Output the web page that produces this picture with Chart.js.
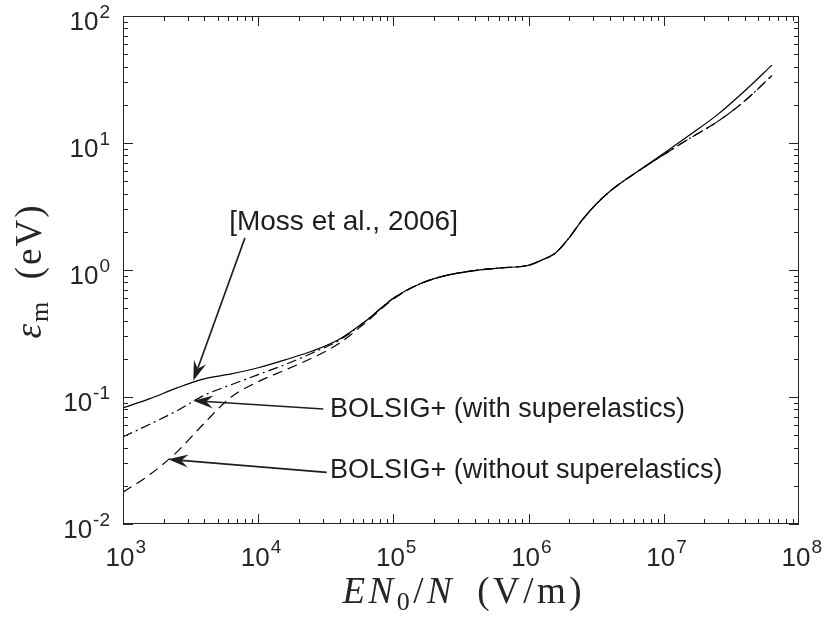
<!DOCTYPE html>
<html>
<head>
<meta charset="utf-8">
<script src="https://cdn.jsdelivr.net/npm/chart.js@4"></script>
<style>
  html, body { margin: 0; background: #fff; }
  #wrap { width: 826px; height: 624px; position: relative; }
</style>
</head>
<body>
<div id="wrap"><canvas id="chart_energy"></canvas></div>
<script>
// reduced field E N0/N (V/m), sampled on the picture's log axis
var fieldVm = [1.00e3, 1.58e3, 2.51e3, 3.98e3, 6.31e3,
               1.00e4, 1.58e4, 2.51e4, 3.98e4, 6.31e4,
               1.00e5, 1.58e5, 2.51e5, 3.98e5, 6.31e5,
               1.00e6, 1.26e6, 1.58e6, 2.00e6, 2.51e6, 3.16e6, 3.98e6, 5.01e6, 6.31e6,
               1.00e7, 1.58e7, 2.51e7, 3.98e7, 6.31e7];

// mean energy (eV)
var mossEnergy = [0.082, 0.097, 0.118, 0.139, 0.152,
                  0.170, 0.196, 0.230, 0.285, 0.40,
                  0.60, 0.78, 0.91, 0.99, 1.04,
                  1.09, 1.20, 1.36, 1.80, 2.50, 3.30, 4.15, 5.00, 5.90,
                  8.3, 11.7, 16.8, 25.8, 41];
var withSuperEnergy = [0.0486, 0.061, 0.078, 0.103, 0.125,
                       0.150, 0.180, 0.222, 0.280, 0.40,
                       0.60, 0.78, 0.91, 0.99, 1.04,
                       1.09, 1.20, 1.36, 1.80, 2.50, 3.30, 4.15, 5.00, 5.90,
                       8.1, 11.0, 14.8, 21.5, 34];
var withoutSuperEnergy = [0.0178, 0.0245, 0.037, 0.062, 0.100,
                          0.132, 0.163, 0.203, 0.265, 0.39,
                          0.59, 0.78, 0.91, 0.99, 1.04,
                          1.09, 1.20, 1.36, 1.80, 2.50, 3.30, 4.15, 5.00, 5.90,
                          8.1, 11.0, 14.8, 21.5, 34];

var xTickExp = [3, 4, 5, 6, 7, 8];
var yTickExp = [-2, -1, 0, 1, 2];

// annotations, in data coordinates
var notes = [
    { text: '[Moss et al., 2006]', at: [6.1e3, 2.07], from: [7.98e3, 1.79], to: [3.31e3, 0.134] },
    { text: 'BOLSIG+ (with superelastics)', at: [3.40e4, 0.070], from: [3.03e4, 0.0805], to: [3.31e3, 0.0935] },
    { text: 'BOLSIG+ (without superelastics)', at: [3.40e4, 0.0229], from: [3.21e4, 0.0255], to: [2.16e3, 0.0323] }
];

var INK = '#262626';
var SANS = '"Liberation Sans", Arial, Helvetica, sans-serif';
var SERIF = '"Liberation Serif", "Times New Roman", serif';

function series(vals) {
    return fieldVm.map((e, i) => ({ x: e, y: vals[i] }));
}

function drawArrow(ctx, x0, y0, x1, y1) {
    var ang = Math.atan2(y1 - y0, x1 - x0);
    var len = 20, half = 6.5, notch = 13;
    var c = Math.cos(ang), s = Math.sin(ang);
    ctx.beginPath();
    ctx.moveTo(x0, y0);
    ctx.lineTo(x1 - c * notch, y1 - s * notch);
    ctx.lineWidth = 1.6;
    ctx.stroke();
    ctx.beginPath();
    ctx.moveTo(x1, y1);
    ctx.lineTo(x1 - c * len - s * half, y1 - s * len + c * half);
    ctx.lineTo(x1 - c * notch, y1 - s * notch);
    ctx.lineTo(x1 - c * len + s * half, y1 - s * len - c * half);
    ctx.closePath();
    ctx.fill();
}

// draws pieces of text char by char with extra spacing, returns width
function drawPieces(ctx, pieces, x, y, gap, dry) {
    var cx = x;
    pieces.forEach(p => {
        ctx.font = p.font;
        for (var ch of p.t) {
            if (!dry) ctx.fillText(ch, cx, y + (p.dy || 0));
            cx += ctx.measureText(ch).width + gap;
        }
    });
    return cx - x - gap;
}

var frameTicks = {
    id: 'frameTicks',
    afterDatasetsDraw(chart) {
        var ctx = chart.ctx, a = chart.chartArea;
        var xs = chart.scales.x, ys = chart.scales.y;
        ctx.save();
        ctx.strokeStyle = INK;
        ctx.fillStyle = INK;
        ctx.lineWidth = 1;

        // box
        ctx.strokeRect(Math.round(a.left) + 0.5, Math.round(a.top) + 0.5,
                       Math.round(a.right - a.left) - 1, Math.round(a.bottom - a.top) - 1);

        // ticks on all four sides, pointing in
        ctx.beginPath();
        for (var e = 3; e <= 8; e++) {
            for (var m = 1; m <= 9; m++) {
                if (e == 8 && m > 1) break;
                var px = Math.round(xs.getPixelForValue(m * Math.pow(10, e))) + 0.5;
                if (px > a.right) px = a.right - 0.5;
                var L = m == 1 ? 10 : 5;
                ctx.moveTo(px, a.bottom); ctx.lineTo(px, a.bottom - L);
                ctx.moveTo(px, a.top); ctx.lineTo(px, a.top + L);
            }
        }
        for (var e = -2; e <= 2; e++) {
            for (var m = 1; m <= 9; m++) {
                if (e == 2 && m > 1) break;
                var py = Math.round(ys.getPixelForValue(m * Math.pow(10, e))) + 0.5;
                var L = m == 1 ? 10 : 5;
                ctx.moveTo(a.left, py); ctx.lineTo(a.left + L, py);
                ctx.moveTo(a.right, py); ctx.lineTo(a.right - L, py);
            }
        }
        ctx.stroke();

        // tick labels
        var baseFont = '26px ' + SANS, supFont = '19px ' + SANS;
        ctx.textBaseline = 'alphabetic';
        ctx.textAlign = 'left';
        xTickExp.forEach(n => {
            var px = xs.getPixelForValue(Math.pow(10, n));
            ctx.font = baseFont;
            var w = ctx.measureText('10').width;
            ctx.fillText('10', px - w / 2 - 3, a.bottom + 42);
            ctx.font = supFont;
            ctx.fillText(String(n), px + w / 2 - 2, a.bottom + 29);
        });
        yTickExp.forEach(n => {
            var py = ys.getPixelForValue(Math.pow(10, n));
            ctx.font = supFont;
            var sw = ctx.measureText(String(n)).width;
            ctx.font = baseFont;
            var w = ctx.measureText('10').width;
            var right = a.left - 13;
            ctx.fillText('10', right - sw - 1 - w, py + 14);
            ctx.font = supFont;
            ctx.fillText(String(n), right - sw, py + 2);
        });

        // x title: E N_0 / N (V/m)
        var it = 'italic 37px ' + SERIF, rm = '37px ' + SERIF, sb = '26px ' + SERIF;
        var xt = [{ t: 'EN', font: it }, { t: '0', font: sb, dy: 7 }, { t: '/', font: rm },
                  { t: 'N', font: it }, { t: '\u2002(V/m)', font: rm }];
        var wx = drawPieces(ctx, xt, 0, 0, 3.5, true);
        drawPieces(ctx, xt, 462 - wx / 2, 603, 3.5, false);

        // y title: eps_m (eV)
        var yt = [{ t: '\u03b5', font: it }, { t: 'm', font: sb, dy: 7 }, { t: '\u2002(eV)', font: rm }];
        var wy = drawPieces(ctx, yt, 0, 0, 2, true);
        ctx.save();
        ctx.translate(41, 272 + wy / 2);
        ctx.rotate(-Math.PI / 2);
        drawPieces(ctx, yt, 0, 0, 2, false);
        ctx.restore();

        // annotations with arrows
        ctx.fillStyle = '#1e1e1e';
        ctx.strokeStyle = '#1e1e1e';
        notes.forEach((nt, i) => {
            ctx.font = (i == 0 ? '28px ' : '27px ') + SANS;
            ctx.fillText(nt.text, xs.getPixelForValue(nt.at[0]), ys.getPixelForValue(nt.at[1]));
            drawArrow(ctx, xs.getPixelForValue(nt.from[0]), ys.getPixelForValue(nt.from[1]),
                      xs.getPixelForValue(nt.to[0]), ys.getPixelForValue(nt.to[1]));
        });
        ctx.restore();
    }
};

new Chart(document.getElementById('chart_energy'), {
    type: 'line',
    data: {
        datasets: [{
            label: 'BOLSIG+ (without superelastics)',
            data: series(withoutSuperEnergy),
            borderColor: '#000',
            borderDash: [10, 6],
            borderWidth: 1.2,
            cubicInterpolationMode: 'monotone'
        }, {
            label: 'BOLSIG+ (with superelastics)',
            data: series(withSuperEnergy),
            borderColor: '#000',
            borderDash: [10, 4, 2, 4],
            borderWidth: 1.2,
            cubicInterpolationMode: 'monotone'
        }, {
            label: 'Moss et al., 2006',
            data: series(mossEnergy),
            borderColor: '#000',
            borderWidth: 1.2,
            cubicInterpolationMode: 'monotone'
        }]
    },
    options: {
        responsive: true,
        maintainAspectRatio: false,
        devicePixelRatio: 1,
        animation: false,
        layout: { padding: { left: 123, right: 27, top: 16, bottom: 100 } },
        elements: { point: { radius: 0 } },
        plugins: {
            legend: { display: false },
            tooltip: { enabled: false }
        },
        scales: {
            x: { type: 'logarithmic', min: 1e3, max: 1e8, display: false },
            y: { type: 'logarithmic', min: 1e-2, max: 1e2, display: false }
        }
    },
    plugins: [frameTicks]
});
</script>
</body>
</html>
